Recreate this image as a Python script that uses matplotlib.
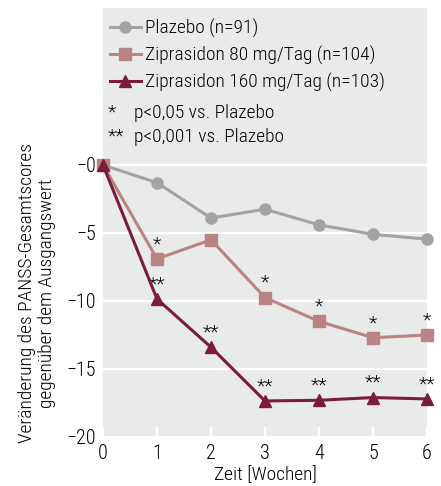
import matplotlib
matplotlib.use("Agg")
import matplotlib.pyplot as plt
from matplotlib import font_manager

names = {f.name for f in font_manager.fontManager.ttflist}
prefs = ["Roboto Condensed", "Open Sans Condensed", "Fira Sans Condensed", "PT Sans Narrow",
         "IBM Plex Sans Condensed", "Asap Condensed", "Encode Sans Condensed", "Archivo Narrow",
         "Liberation Sans Narrow"]
FONT = next((p for p in prefs if p in names), None)
if FONT is None:
    FONT = "Roboto" if "Roboto" in names else "DejaVu Sans"
    FS = 12
else:
    FS = 14
plt.rcParams['font.family'] = [FONT, 'DejaVu Sans']
plt.rcParams['font.weight'] = 'light'
plt.rcParams['axes.labelweight'] = 'light'

weeks = [0, 1, 2, 3, 4, 5, 6]
plazebo = [0, -1.3, -3.9, -3.25, -4.4, -5.1, -5.45]
zip80 = [0, -6.9, -5.5, -9.75, -11.5, -12.7, -12.5]
zip160 = [0, -9.85, -13.4, -17.35, -17.3, -17.1, -17.2]
sig80 = ["", "*", "", "*", "*", "*", "*"]
sig160 = ["", "**", "**", "**", "**", "**", "**"]
labels = ["Plazebo (n=91)", "Ziprasidon 80 mg/Tag (n=104)", "Ziprasidon 160 mg/Tag (n=103)"]
yticks = [0, -5, -10, -15, -20]
yticklabels = ["\u22120", "\u22125", "\u221210", "\u221215", "\u221220"]

c_pl = "#a3a3a3"
c_80 = "#b98383"
c_160 = "#7a1c3c"
bg = "#e9ebeb"

fig = plt.figure(figsize=(4.41, 4.86), dpi=100)
ax = fig.add_axes([103/441, 1-437/486, (427-103)/441, (437-8)/486])
ax.set_facecolor(bg)
for s in ax.spines.values():
    s.set_visible(False)

ax.plot(weeks, plazebo, color=c_pl, lw=2.2, marker="o", ms=8, label=labels[0], clip_on=False, zorder=3)
ax.plot(weeks, zip80, color=c_80, lw=2.2, marker="s", ms=8, label=labels[1], clip_on=False, zorder=3)
ax.plot(weeks, zip160, color=c_160, lw=2.2, marker="^", ms=9, label=labels[2], clip_on=False, zorder=4)

for x, y, s in zip(weeks, zip80, sig80):
    if s:
        ax.annotate(s, (x, y), xytext=(0, 4), textcoords="offset points",
                    ha="center", va="bottom", fontsize=FS)
for x, y, s in zip(weeks, zip160, sig160):
    if s:
        ax.annotate(s, (x, y), xytext=(0, 4), textcoords="offset points",
                    ha="center", va="bottom", fontsize=FS)

ax.set_xlim(0, 6)
ax.set_ylim(-20, (165-8)/13.6)
ax.set_yticks(yticks)
ax.set_yticklabels(yticklabels)
ax.set_xticks(weeks)
ax.tick_params(axis="y", length=0, pad=5, labelsize=FS + 0.5)
ax.tick_params(axis="x", direction="in", length=7, width=1.6, color="white", pad=5, labelsize=FS + 0.5)
ax.grid(axis="y", color="white", lw=1.6)
ax.set_axisbelow(True)
ax.set_xlabel("Zeit [Wochen]", fontsize=FS, labelpad=2, fontweight="light")
fig.text(37/441, 1-293/486, "Veränderung des PANSS-Gesamtscores\ngegenüber dem Ausgangswert",
         rotation=90, ha="center", va="center", fontsize=FS, linespacing=1.1)

leg = ax.legend(loc="upper left", bbox_to_anchor=(0.0, 0.99), frameon=False, fontsize=FS,
                handlelength=1.6, handletextpad=0.2, borderaxespad=0.15, labelspacing=0.4,
                borderpad=0.2)
fig.text(108/441, 1-113/486, "*", fontsize=FS, va="center", ha="left")
fig.text(134/441, 1-113/486, "p<0,05 vs. Plazebo", fontsize=FS, va="center", ha="left")
fig.text(108/441, 1-137/486, "**", fontsize=FS, va="center", ha="left")
fig.text(134/441, 1-137/486, "p<0,001 vs. Plazebo", fontsize=FS, va="center", ha="left")

fig.savefig("out.png", dpi=100)
